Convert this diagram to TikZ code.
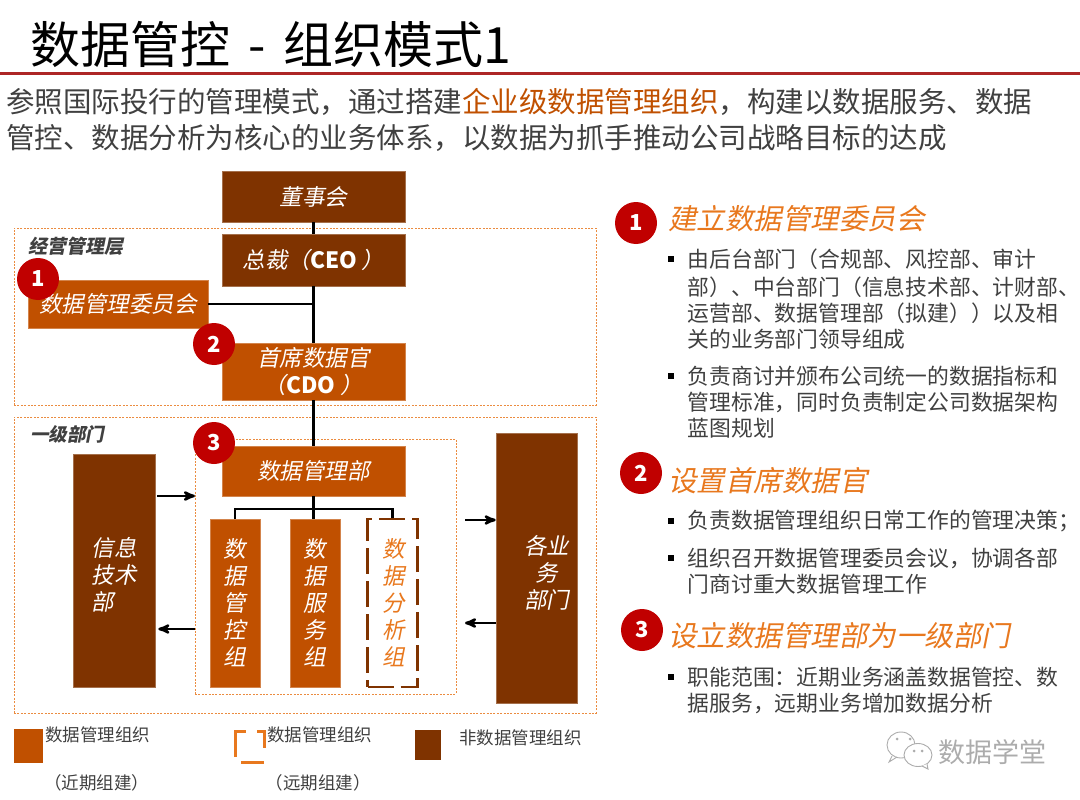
\documentclass[tikz,border=0pt]{standalone}
\usepackage{fontspec}
\setmainfont{Noto Sans CJK SC}
\newfontfamily\cjkit[FakeSlant=0.2]{Noto Sans CJK SC}
\newfontfamily\cjkup{Noto Sans CJK SC}
\usetikzlibrary{arrows}
\definecolor{darkorg}{HTML}{7F3300}
\definecolor{midorg}{HTML}{C05000}
\definecolor{headorg}{HTML}{E8781E}
\definecolor{badgered}{HTML}{C00000}
\definecolor{bodygray}{HTML}{404040}
\tikzset{
 orgbox/.style={fill=#1,draw=#1!70!white,line width=.6pt,text=white,inner sep=0pt,align=center,
   font=\cjkit\fontsize{22.5}{27}\selectfont},
 zonebox/.style={draw=headorg!85!white,dash pattern=on 2pt off 1.4pt,line width=1pt,inner sep=0pt},
 badge/.style={circle,fill=badgered,text=white,minimum size=42pt,inner sep=0pt,
   font=\bfseries\fontsize{22}{22}\selectfont},
 headline/.style={anchor=west,inner sep=0pt,text=headorg,font=\cjkit\fontsize{28.5}{28.5}\selectfont},
 bodyline/.style={anchor=west,inner sep=0pt,text=bodygray,font=\fontsize{21.8}{21.8}\selectfont},
 legendtext/.style={inner sep=0pt,text=bodygray,font=\fontsize{17.5}{17.5}\selectfont},
 flowarrow/.style={black,line width=2.6pt,->,>=stealth'},
 stem/.style={black,line width=2.6pt}
}
\begin{document}
\begin{tikzpicture}[x=1pt,y=-1pt]
\useasboundingbox (0,0) rectangle (1080,800);
\node[anchor=west,inner sep=0pt,font=\fontsize{50}{50}\selectfont] (title) at (30,44) {数据管控\hspace{18pt}-\hspace{18pt}组织模式1};
\draw[badgered!70!gray,line width=2.2pt] (0,73.5)--(1080,73.5);
\node[anchor=west,inner sep=0pt,text=bodygray,font=\fontsize{28.5}{28.5}\selectfont] (introa) at (6,102)
 {参照国际投行的管理模式，通过搭建\textcolor{midorg}{企业级数据管理组织}，构建以数据服务、数据};
\node[anchor=west,inner sep=0pt,text=bodygray,font=\fontsize{28.5}{28.5}\selectfont] (introb) at (6,138)
 {管控、数据分析为核心的业务体系，以数据为抓手推动公司战略目标的达成};

\node[zonebox,minimum width=582pt,minimum height=177pt] (mgmtzone) at (305,316.5) {};
\node[zonebox,minimum width=582pt,minimum height=296pt] (deptzone) at (305,565) {};
\node[zonebox,minimum width=261pt,minimum height=255pt] (dmdzone) at (325.5,566.5) {};
\node[anchor=west,inner sep=0pt,font=\cjkit\bfseries\fontsize{19}{19}\selectfont,text=bodygray] (mgmtlabel) at (28,246) {经营管理层};
\node[anchor=west,inner sep=0pt,font=\cjkit\bfseries\fontsize{18.5}{18.5}\selectfont,text=bodygray] (deptlabel) at (30,434) {一级部门};

\node[orgbox=darkorg,minimum width=183pt,minimum height=51pt] (board) at (313.5,196.5) {董事会};
\node[orgbox=darkorg,minimum width=183pt,minimum height=52pt] (ceo) at (313.5,260) {总裁（{\cjkup\bfseries CEO} ）};
\node[orgbox=midorg,minimum width=180pt,minimum height=48pt] (committee) at (118,304) {数据管理委员会};
\node[orgbox=midorg,minimum width=183pt,minimum height=57pt] (cdo) at (313.5,371.5) {首席数据官\\（{\cjkup\bfseries CDO} ）};
\node[orgbox=midorg,minimum width=183pt,minimum height=50pt] (dmd) at (313.5,471) {数据管理部};
\node[orgbox=darkorg,align=left,minimum width=82pt,minimum height=233pt] (infotech) at (114,570.5)
 {\rule{0pt}{28pt}信息\\技术\\部};
\node[orgbox=darkorg,minimum width=81pt,minimum height=270pt] (business) at (536.5,568)
 {\rule{0pt}{28pt}\hspace*{20pt}各业\\\hspace*{20pt}务\\\hspace*{20pt}部门};
\node[orgbox=midorg,minimum width=50pt,minimum height=168pt] (govgroup) at (235,603) {数\\据\\管\\控\\组};
\node[orgbox=midorg,minimum width=50pt,minimum height=168pt] (svcgroup) at (315,603) {数\\据\\服\\务\\组};
\node[draw=darkorg,dash pattern=on 26pt off 7pt,line width=2.8pt,inner sep=0pt,align=center,text=headorg,
 minimum width=50pt,minimum height=168pt,font=\cjkit\fontsize{22.5}{27}\selectfont] (anagroup) at (392.5,603) {\hspace*{3pt}数\\\hspace*{3pt}据\\\hspace*{3pt}分\\\hspace*{3pt}析\\\hspace*{3pt}组};

\coordinate (bar) at (314,509);
\draw[stem] (board)--(ceo);
\draw[stem] (ceo)--(cdo);
\draw[stem] (cdo)--(dmd);
\draw[stem] (committee.east)--(committee.east -| ceo);
\draw[stem] (dmd.south)--(svcgroup.north -| dmd.south);
\draw[stem] (govgroup.north) |- (bar) -| (anagroup.north);

\coordinate (infoout) at (195,496);
\coordinate (infoin) at (195,629);
\coordinate (busout) at (465,520);
\coordinate (busin) at (465,623);
\draw[flowarrow,shorten <=2pt] (infotech.east |- infoout)--(infoout);
\draw[flowarrow,shorten >=3pt] (infoin)--(infotech.east |- infoin);
\draw[flowarrow] (busout)--(business.west |- busout);
\draw[flowarrow] (business.west |- busin)--(busin);

\foreach \x/\y/\n in {38/279/1,214/344/2,214/443/3,636/223/1,641/473/2,642/630/3}
 \node[badge] (b\x) at (\x,\y) {\n};

\node[headline] (heada) at (668,219) {建立数据管理委员会};
\node[headline] (headb) at (668,481) {设置首席数据官};
\node[headline] (headc) at (668,636) {设立数据管理部为一级部门};

\foreach \y in {259,376,521,558,677}
 \fill[black] (668,\y-3) rectangle ++(6,6);
\foreach \y/\t in {
 259/由后台部门（合规部、风控部、审计,
 287/部）、中台部门（信息技术部、计财部、,
 313/运营部、数据管理部（拟建））以及相,
 339/关的业务部门领导组成,
 376/负责商讨并颁布公司统一的数据指标和,
 402/管理标准，同时负责制定公司数据架构,
 428/蓝图规划,
 521/负责数据管理组织日常工作的管理决策；,
 558/组织召开数据管理委员会议，协调各部,
 584/门商讨重大数据管理工作,
 677/职能范围：近期业务涵盖数据管控、数,
 703/据服务，远期业务增加数据分析}
 \node[bodyline] at (687.4,\y) {\t};

\fill[midorg] (14,729) rectangle (43,763);
\draw[headorg,line width=3pt] (235,757)--(235,731)--(246,731) (257,731)--(264,731)--(264,748) (241,762)--(264,762);
\fill[darkorg] (415,730) rectangle (441,760);
\node[legendtext,anchor=west] (lega) at (45,735) {数据管理组织};
\node[legendtext,anchor=west] (legb) at (267,735) {数据管理组织};
\node[legendtext,anchor=west] (legc) at (459,738) {非数据管理组织};
\node[legendtext] (legd) at (97,783) {（近期组建）};
\node[legendtext] (lege) at (318,783) {（远期组建）};

\draw[gray!65,line width=.9pt] (901,745) ellipse (14 and 13);
\draw[gray!65,line width=.9pt] (892,756)--(889,762)--(897,757);
\draw[gray!65,line width=.9pt,fill=white] (918,755) ellipse (14 and 11.5);
\draw[gray!65,line width=.9pt,fill=white] (922,766)--(928,769)--(927,764);
\foreach \x/\y in {897/739,910/739,914/751,922/751}
 \fill[gray!65] (\x,\y) circle (1.5);
\node[anchor=west,inner sep=0pt,text=gray!65,font=\fontsize{27}{27}\selectfont] (wmark) at (938,752) {数据学堂};
\end{tikzpicture}
\end{document}
